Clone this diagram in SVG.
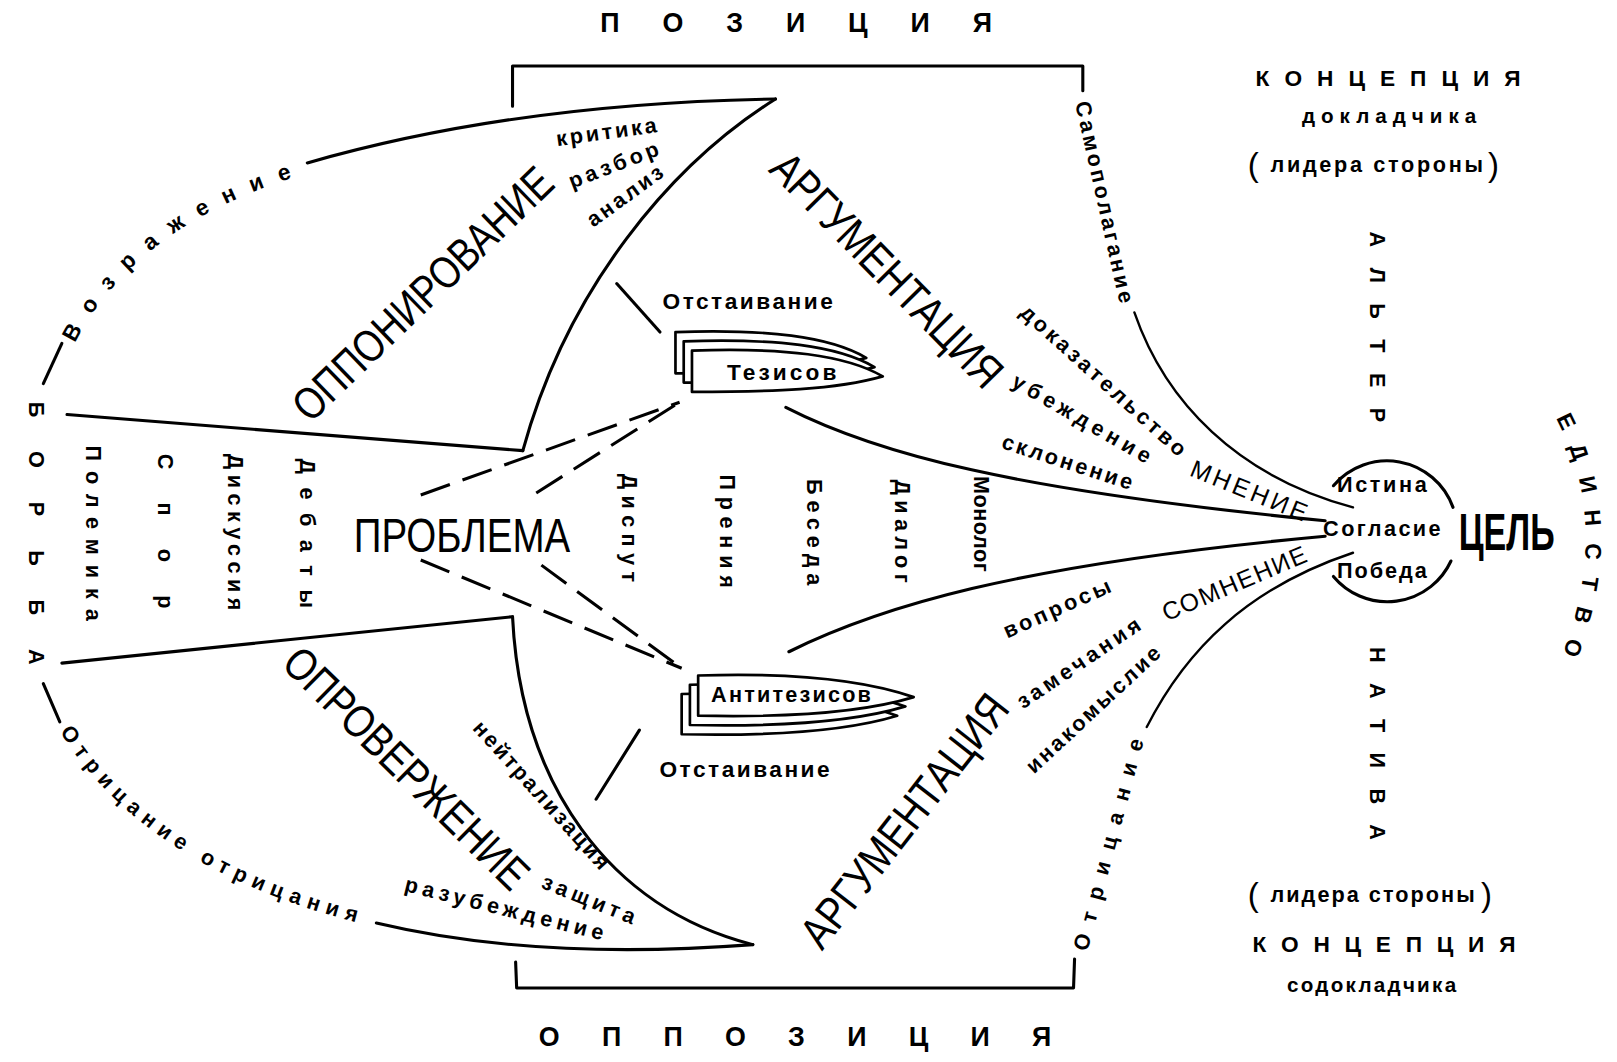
<svg xmlns="http://www.w3.org/2000/svg" width="1617" height="1062" viewBox="0 0 1617 1062">
<style>
.ln{fill:none;stroke:#000;stroke-width:3;stroke-linecap:round;stroke-linejoin:round}
.thin{stroke-width:2.3}
.dash{stroke-dasharray:30 13;stroke-linecap:butt}
.bl{fill:#fff;stroke:#000;stroke-width:2.6;stroke-linejoin:round}
text{font-family:"Liberation Sans","DejaVu Sans",sans-serif;fill:#000}
.big{font-size:44px}
.s{font-size:21px;font-weight:bold}
.sp{font-size:22px;font-weight:bold}
.v{font-size:21px;font-weight:bold}
</style>
<defs>
<path id="bt" d="M0,0 C89,-3 149,4 185,25 C139,38 79,40 0,40 Z"/>
<path id="ba" d="M0,0 C93,-3 163,5 209,21 C163,35 93,41 0,39 Z"/>
<path id="pVoz" d="M70,338 Q130,215 305,166"/>
<path id="pOtr" d="M56,706 Q140,845 360,898"/>
<path id="pEd" d="M1506,400 Q1566,510 1512,642"/>
</defs>
<rect width="1617" height="1062" fill="#fff"/>
<g transform="scale(1.03125)">

<g id="connectors">
<path class="ln" d="M497,103 L497,64 L1050,64 L1050,88"/>
<path class="ln" d="M500,933 L501,958 L1041,958 L1042,930"/>
<path class="ln" d="M60,333 L42,372"/>
<path class="ln" d="M298,158 Q500,100 752,96"/>
<path class="ln" d="M752,96 C650,160 550,280 507,437"/>
<path class="ln" d="M65,402 L507,437"/>
<path class="ln" d="M42,663 L58,700"/>
<path class="ln" d="M365,895 Q520,932 730,916"/>
<path class="ln" d="M497,598 C505,760 590,880 730,916"/>
<path class="ln" d="M60,643 L497,598"/>
<path class="ln dash" d="M408,480 L659,390"/>
<path class="ln dash" d="M520,478 L659,390"/>
<path class="ln dash" d="M408,543 L661,648"/>
<path class="ln dash" d="M525,548 L661,648"/>
<path class="ln" d="M598,275 L640,322"/>
<path class="ln" d="M620,708 L578,775"/>
<path class="ln" d="M762,395 C850,440 980,475 1285,505"/>
<path class="ln" d="M765,632 C850,590 980,548 1285,520"/>
<path class="ln thin" d="M1100,303 C1130,390 1200,462 1312,492"/>
<path class="ln thin" d="M1112,705 C1150,630 1210,570 1312,536"/>
</g>

<g id="node-pozitsiya">
<text x="772" y="31" font-size="26" font-weight="bold" text-anchor="middle" textLength="380">П О З И Ц И Я</text>
</g>
<g id="node-oppozitsiya">
<text x="771" y="1014" font-size="26" font-weight="bold" text-anchor="middle" textLength="497">О П П О З И Ц И Я</text>
</g>

<g id="node-kontseptsiya-dokl">
<text x="1346" y="83" font-size="22" font-weight="bold" text-anchor="middle" textLength="257">К О Н Ц Е П Ц И Я</text>
<text x="1347" y="119" font-size="20" font-weight="bold" text-anchor="middle" textLength="169">докладчика</text>
<text y="168" font-size="21" font-weight="bold"><tspan x="1210" y="171" font-size="32" font-weight="normal">(</tspan><tspan x="1232" y="167" textLength="206">лидера стороны</tspan><tspan x="1443" y="171" font-size="32" font-weight="normal">)</tspan></text>
</g>

<g id="node-kontseptsiya-sodokl">
<text y="875" font-size="21" font-weight="bold"><tspan x="1210" y="879" font-size="32" font-weight="normal">(</tspan><tspan x="1232" y="875" textLength="198">лидера стороны</tspan><tspan x="1436" y="879" font-size="32" font-weight="normal">)</tspan></text>
<text x="1342" y="923" font-size="22" font-weight="bold" text-anchor="middle" textLength="255">К О Н Ц Е П Ц И Я</text>
<text x="1330" y="962" font-size="20" font-weight="bold" text-anchor="middle" textLength="164">содокладчика</text>
</g>

<g id="node-alternativa">
<text class="v" transform="translate(1335,317) rotate(90)" y="7" text-anchor="middle" textLength="185">А Л Ь Т Е Р</text>
<text class="v" transform="translate(1335,721) rotate(90)" y="7" text-anchor="middle" textLength="187">Н А Т И В А</text>
</g>

<g id="node-edinstvo">
<text font-size="22" font-weight="bold"><textPath href="#pEd" startOffset="6" textLength="236">Е Д И Н С Т В О</textPath></text>
</g>

<g id="node-tsel">
<path class="ln" d="M1293,471 A68,68 0 0 1 1409,492"/>
<path class="ln" d="M1293,559 A68,68 0 0 0 1407,544"/>
<text class="s" x="1340" y="477" text-anchor="middle" textLength="87">Истина</text>
<text class="s" x="1340" y="520" text-anchor="middle" textLength="114">Согласие</text>
<text class="s" x="1340" y="560" text-anchor="middle" textLength="87">Победа</text>
<text transform="translate(1461,533) scale(0.66,1)" font-size="50" font-weight="bold" text-anchor="middle">ЦЕЛЬ</text>
</g>

<g id="node-mnenie">
<text transform="translate(1211,476) rotate(22)" y="8" font-size="24" text-anchor="middle" textLength="120">МНЕНИЕ</text>
<text class="s" transform="translate(1070,369) rotate(42)" y="7" text-anchor="middle" textLength="208">доказательство</text>
<text class="s" transform="translate(1049,406) rotate(30)" y="7" text-anchor="middle" textLength="152">убеждение</text>
<text class="s" transform="translate(1035,448) rotate(18)" y="7" text-anchor="middle" textLength="132">склонение</text>
</g>

<g id="node-somnenie">
<text transform="translate(1197,566) rotate(-23)" y="8" font-size="24" text-anchor="middle" textLength="150">СОМНЕНИЕ</text>
<text class="s" transform="translate(1025,590) rotate(-24)" y="7" text-anchor="middle" textLength="112">вопросы</text>
<text class="s" transform="translate(1046,643) rotate(-34)" y="7" text-anchor="middle" textLength="140">замечания</text>
<text class="s" transform="translate(1060,688) rotate(-43)" y="7" text-anchor="middle" textLength="170">инакомыслие</text>
</g>

<g id="node-samopolaganie">
<text class="s" font-size="20" transform="translate(1071,196) rotate(77.5)" y="7" text-anchor="middle" textLength="200">Самополагание</text>
</g>
<g id="node-otritsanie">
<text class="s" transform="translate(1075,819) rotate(-75)" y="7" text-anchor="middle" textLength="212">Отрицание</text>
</g>

<g id="node-argumentatsiya-1">
<text class="big" transform="translate(860,262) rotate(45.5)" y="15" text-anchor="middle" textLength="300" lengthAdjust="spacingAndGlyphs">АРГУМЕНТАЦИЯ</text>
</g>
<g id="node-argumentatsiya-2">
<text class="big" transform="translate(877,796) rotate(-52)" y="15" text-anchor="middle" textLength="298" lengthAdjust="spacingAndGlyphs">АРГУМЕНТАЦИЯ</text>
</g>

<g id="node-opponirovanie">
<text class="big" transform="translate(410,285) rotate(-44)" y="15" text-anchor="middle" textLength="332" lengthAdjust="spacingAndGlyphs">ОППОНИРОВАНИЕ</text>
<text class="s" transform="translate(588,128) rotate(-8)" y="7" text-anchor="middle" textLength="98">критика</text>
<text class="s" transform="translate(595,160) rotate(-21)" y="7" text-anchor="middle" textLength="92">разбор</text>
<text class="s" transform="translate(606,190) rotate(-36)" y="7" text-anchor="middle" textLength="86">анализ</text>
</g>

<g id="node-oproverzhenie">
<text class="big" transform="translate(394,745) rotate(44.5)" y="15" text-anchor="middle" textLength="314" lengthAdjust="spacingAndGlyphs">ОПРОВЕРЖЕНИЕ</text>
<text class="s" font-size="20" transform="translate(525,771) rotate(48)" y="7" text-anchor="middle" textLength="186">нейтрализация</text>
<text class="s" transform="translate(571,872) rotate(22)" y="7" text-anchor="middle" textLength="96">защита</text>
<text class="s" transform="translate(489,881) rotate(14)" y="7" text-anchor="middle" textLength="198">разубеждение</text>
</g>

<g id="node-vozrazhenie">
<text font-size="22" font-weight="bold"><textPath href="#pVoz" startOffset="6" textLength="272">Возражение</textPath></text>
</g>
<g id="node-otritsanie-otritsaniya">
<text font-size="21" font-weight="bold"><textPath href="#pOtr" startOffset="4" textLength="350">Отрицание отрицания</textPath></text>
</g>

<g id="node-borba">
<text class="v" font-size="22" transform="translate(35,517) rotate(90)" y="7" text-anchor="middle" textLength="255">Б О Р Ь Б А</text>
<text class="v" font-size="20" transform="translate(90,517) rotate(90)" y="7" text-anchor="middle" textLength="170">Полемика</text>
<text class="v" font-size="22" transform="translate(160,515) rotate(90)" y="7" text-anchor="middle" textLength="150">Спор</text>
<text class="v" font-size="20" transform="translate(228,516) rotate(90)" y="7" text-anchor="middle" textLength="152">Дискуссия</text>
<text class="v" font-size="22" transform="translate(298,517) rotate(90)" y="7" text-anchor="middle" textLength="145">Дебаты</text>
</g>

<g id="node-problema">
<text x="448" y="535" font-size="46" text-anchor="middle" textLength="210" lengthAdjust="spacingAndGlyphs">ПРОБЛЕМА</text>
</g>

<g id="node-forms">
<text class="v" transform="translate(610,512) rotate(90)" y="7" text-anchor="middle" textLength="105">Диспут</text>
<text class="v" transform="translate(705,515) rotate(90)" y="7" text-anchor="middle" textLength="110">Прения</text>
<text class="v" transform="translate(790,516) rotate(90)" y="7" text-anchor="middle" textLength="103">Беседа</text>
<text class="v" transform="translate(875,515) rotate(90)" y="7" text-anchor="middle" textLength="100">Диалог</text>
<text class="v" font-size="18" transform="translate(950,508) rotate(90)" y="6" text-anchor="middle" textLength="93">Монолог</text>
</g>

<g id="node-tezisov">
<use href="#bt" x="655" y="322" class="bl"/>
<use href="#bt" x="663" y="331" class="bl"/>
<use href="#bt" x="671" y="340" class="bl"/>
<text class="sp" x="758" y="368" text-anchor="middle" textLength="106">Тезисов</text>
<text class="sp" x="725" y="300" text-anchor="middle" textLength="165">Отстаивание</text>
</g>

<g id="node-antitezisov">
<use href="#ba" x="661" y="673" class="bl"/>
<use href="#ba" x="669" y="664" class="bl"/>
<use href="#ba" x="677" y="655" class="bl"/>
<text class="s" x="767" y="681" text-anchor="middle" textLength="155">Антитезисов</text>
<text class="sp" x="722" y="753" text-anchor="middle" textLength="165">Отстаивание</text>
</g>

</g>
</svg>
